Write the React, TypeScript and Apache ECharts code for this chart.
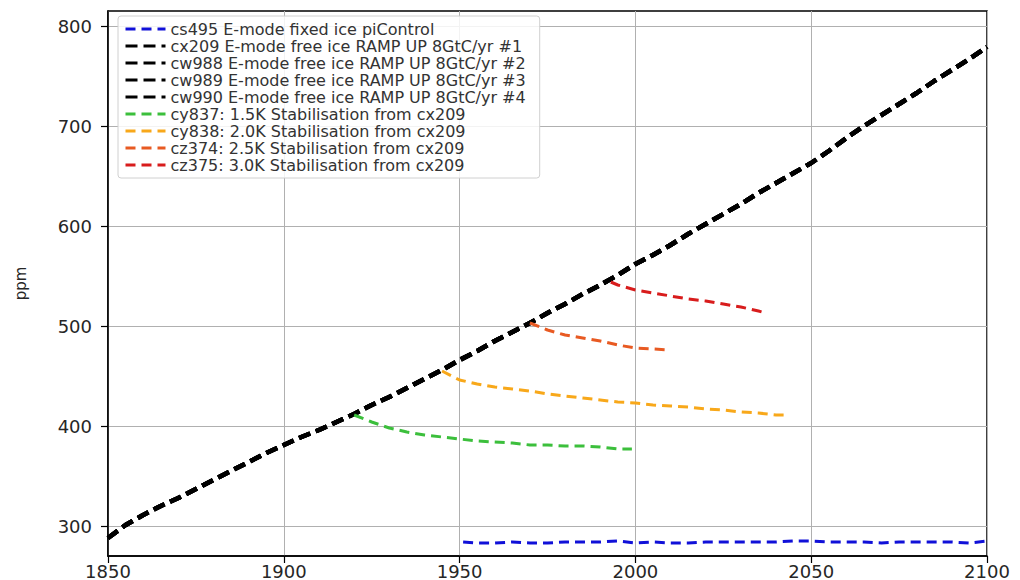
import React, { useEffect, useRef } from "react";
import * as echarts from "echarts";

const blackYears = [1850, 1855, 1860, 1865, 1870, 1875, 1880, 1885, 1890, 1895, 1900, 1905, 1910, 1915, 1920, 1925, 1930, 1935, 1940, 1945, 1950, 1955, 1960, 1965, 1970, 1975, 1980, 1985, 1990, 1995, 2000, 2005, 2010, 2015, 2020, 2025, 2030, 2035, 2040, 2045, 2050, 2055, 2060, 2065, 2070, 2075, 2080, 2085, 2090, 2095, 2100];
const cx209 = [288, 301, 311, 320, 328, 337, 346, 355, 364, 373, 381, 389, 396, 404, 412, 421, 429, 438, 447, 456, 466, 475, 485, 494, 503, 513, 522, 532, 541, 551, 562, 571, 581, 592, 602, 612, 622, 633, 643, 653, 663, 675, 688, 700, 711, 722, 733, 745, 756, 767, 779];
const cw988 = [288, 301, 311, 320, 328, 337, 346, 355, 364, 373, 381, 389, 396, 404, 412, 421, 429, 438, 447, 456, 466, 475, 485, 494, 503, 513, 522, 532, 541, 551, 562, 571, 581, 592, 602, 612, 622, 633, 643, 653, 663, 675, 688, 700, 711, 722, 733, 745, 756, 767, 779];
const cw989 = [288, 301, 311, 320, 328, 337, 346, 355, 364, 373, 381, 389, 396, 404, 412, 421, 429, 438, 447, 456, 466, 475, 485, 494, 503, 513, 522, 532, 541, 551, 562, 571, 581, 592, 602, 612, 622, 633, 643, 653, 663, 675, 688, 700, 711, 722, 733, 745, 756, 767, 779];
const cw990 = [288, 301, 311, 320, 328, 337, 346, 355, 364, 373, 381, 389, 396, 404, 412, 421, 429, 438, 447, 456, 466, 475, 485, 494, 503, 513, 522, 532, 541, 551, 562, 571, 581, 592, 602, 612, 622, 633, 643, 653, 663, 675, 688, 700, 711, 722, 733, 745, 756, 767, 779];

const blueYears = [1951, 1955, 1960, 1965, 1970, 1975, 1980, 1985, 1990, 1995, 2000, 2005, 2010, 2015, 2020, 2025, 2030, 2035, 2040, 2045, 2050, 2055, 2060, 2065, 2070, 2075, 2080, 2085, 2090, 2095, 2100];
const cs495 = [284, 283, 283, 284, 283, 283, 284, 284, 284, 285, 283, 284, 283, 283, 284, 284, 284, 284, 284, 285, 285, 284, 284, 284, 283, 284, 284, 284, 284, 283, 285];

const greenYears = [1920, 1925, 1930, 1935, 1940, 1945, 1950, 1955, 1960, 1965, 1970, 1975, 1980, 1985, 1990, 1995, 1999];
const cy837 = [411, 404, 398, 394, 391, 389, 387, 385, 384, 383, 381, 381, 380, 380, 379, 377, 377];

const orangeYears = [1945, 1950, 1955, 1960, 1965, 1970, 1975, 1980, 1985, 1990, 1995, 2000, 2005, 2010, 2015, 2020, 2025, 2030, 2035, 2040, 2043];
const cy838 = [455, 446, 442, 439, 437, 435, 432, 430, 428, 426, 424, 423, 421, 420, 419, 417, 416, 414, 413, 411, 411];

const orangeRedYears = [1970, 1975, 1980, 1985, 1990, 1995, 2000, 2005, 2010];
const cz374 = [503, 496, 491, 488, 485, 481, 478, 477, 476];

const redYears = [1993, 1995, 2000, 2005, 2010, 2015, 2020, 2025, 2030, 2035, 2037];
const cz375 = [544, 541, 536, 533, 530, 527, 525, 522, 519, 515, 513];

const yTicks = [300, 400, 500, 600, 700, 800];

const pair = (xs: number[], ys: number[]) => xs.map((x, i) => [x, ys[i]]);

export default function App() {
  const ref = useRef<HTMLDivElement>(null);
  useEffect(() => {
    if (!ref.current) return;
    const chart = echarts.init(ref.current, null, { renderer: "svg" });
    const mk = (name: string, xs: number[], ys: number[], color: string, width: number, dash: number[]) => ({
      name,
      type: "line",
      data: pair(xs, ys),
      showSymbol: false,
      symbol: "none",
      lineStyle: { color, width, type: dash },
      itemStyle: { color },
      z: 3,
    });
    const option: any = {
      animation: false,
      backgroundColor: "#fff",
      textStyle: { fontFamily: "DejaVu Sans" },
      grid: { left: 108, right: 33, top: 11, bottom: 24, show: true, borderColor: "#000", borderWidth: 1.5, backgroundColor: "transparent" },
      legend: {
        orient: "vertical",
        left: 118,
        top: 16,
        itemWidth: 40,
        itemHeight: 12,
        itemGap: 1,
        padding: [5, 14, 5, 6],
        backgroundColor: "rgba(255,255,255,0.85)",
        borderColor: "#d0d0d0",
        borderWidth: 1,
        borderRadius: 3,
        itemStyle: { opacity: 0 },
        lineStyle: { width: 3 },
        textStyle: { fontSize: 16, lineHeight: 16, color: "#333", fontFamily: "DejaVu Sans" },
        data: [
          "cs495 E-mode fixed ice piControl",
          "cx209 E-mode free ice RAMP UP 8GtC/yr #1",
          "cw988 E-mode free ice RAMP UP 8GtC/yr #2",
          "cw989 E-mode free ice RAMP UP 8GtC/yr #3",
          "cw990 E-mode free ice RAMP UP 8GtC/yr #4",
          "cy837: 1.5K Stabilisation from cx209",
          "cy838: 2.0K Stabilisation from cx209",
          "cz374: 2.5K Stabilisation from cx209",
          "cz375: 3.0K Stabilisation from cx209",
        ],
      },
      xAxis: {
        type: "value",
        min: 1850,
        max: 2100,
        interval: 50,
        axisLine: { show: true, lineStyle: { color: "#000", width: 1.5 } },
        axisTick: { show: true, length: 7, lineStyle: { color: "#000", width: 1.2 } },
        axisLabel: { fontSize: 18, color: "#262626", margin: 6, fontFamily: "DejaVu Sans", formatter: (v: number) => String(v) },
        splitLine: { show: true, lineStyle: { color: "#b0b0b0", width: 1 } },
      },
      yAxis: {
        type: "value",
        min: 270,
        max: 815,
        name: "ppm",
        nameLocation: "middle",
        nameRotate: 90,
        nameGap: 80,
        nameTextStyle: { fontSize: 15, color: "#262626", fontFamily: "DejaVu Sans" },
        axisLine: { show: true, lineStyle: { color: "#000", width: 1.5 } },
        axisTick: { show: true, length: 7, customValues: yTicks, lineStyle: { color: "#000", width: 1.2 } },
        axisLabel: { fontSize: 18, color: "#262626", margin: 16, customValues: yTicks, fontFamily: "DejaVu Sans" },
        splitLine: { show: true, lineStyle: { color: "#b0b0b0", width: 1 } },
      },
      series: [
        mk("cs495 E-mode fixed ice piControl", blueYears, cs495, "#1010d8", 3, [10, 6]),
        mk("cx209 E-mode free ice RAMP UP 8GtC/yr #1", blackYears, cx209, "#000000", 4.5, [12, 6]),
        mk("cw988 E-mode free ice RAMP UP 8GtC/yr #2", blackYears, cw988, "#000000", 4.5, [12, 6]),
        mk("cw989 E-mode free ice RAMP UP 8GtC/yr #3", blackYears, cw989, "#000000", 4.5, [12, 6]),
        mk("cw990 E-mode free ice RAMP UP 8GtC/yr #4", blackYears, cw990, "#000000", 4.5, [12, 6]),
        mk("cy837: 1.5K Stabilisation from cx209", greenYears, cy837, "#3cbf3c", 3, [10, 6]),
        mk("cy838: 2.0K Stabilisation from cx209", orangeYears, cy838, "#f8a81a", 3, [10, 6]),
        mk("cz374: 2.5K Stabilisation from cx209", orangeRedYears, cz374, "#e85a22", 3, [10, 6]),
        mk("cz375: 3.0K Stabilisation from cx209", redYears, cz375, "#d81c1c", 3, [10, 6]),
      ],
    };
    chart.setOption(option);
    return () => chart.dispose();
  }, []);
  return <div ref={ref} style={{ position: "fixed", left: 0, top: 0, width: 1020, height: 580 }} />;
}
